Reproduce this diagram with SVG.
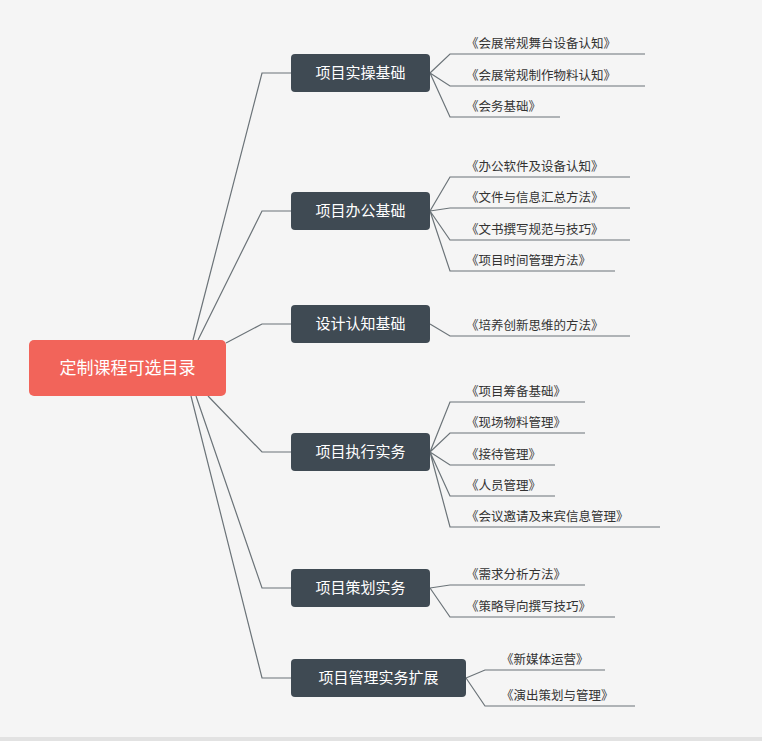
<svg xmlns="http://www.w3.org/2000/svg" width="762" height="741" viewBox="0 0 762 741">
<style>
.c{fill:none;stroke:#6b7378;stroke-width:1.2}
.n rect{fill:#3f4a53}
.n text{fill:#fff;font:15px "Noto Sans CJK SC",sans-serif;text-anchor:middle}
.l{fill:#333;font:12.5px "Noto Sans CJK SC",sans-serif}
</style>
<rect width="762" height="741" fill="#f5f5f5"/>
<rect y="737" width="762" height="4" fill="#e2e2e2"/>
<g id="connectors" class="c">
<path d="M193 340L262 73H291"/>
<path d="M198 340L262 211H291"/>
<path d="M226 343L262 324H291"/>
<path d="M208 396L262 452H291"/>
<path d="M196 396L262 588H291"/>
<path d="M191 396L262 678H291"/>
<path d="M430 73L450 54H645M430 73L450 86H645M430 73L450 117H560"/>
<path d="M430 211L450 177H630M430 211L450 208H630M430 211L450 240H630M430 211L450 271H615"/>
<path d="M430 324L450 336H630"/>
<path d="M430 452L450 402H585M430 452L450 433H585M430 452L450 465H555M430 452L450 496H555M430 452L450 527H660"/>
<path d="M430 588L450 585H585M430 588L450 617H615"/>
<path d="M466 678L485 670H605M466 678L485 706H635"/>
</g>
<g id="root"><rect x="29" y="340" width="197" height="56" rx="5" fill="#f2645a"/><text x="127.5" y="374" fill="#fff" font-family="Noto Sans CJK SC,sans-serif" font-size="17" text-anchor="middle">定制课程可选目录</text></g>
<g id="n1" class="n"><rect x="291" y="54" width="139" height="38" rx="4"/><text x="360.5" y="78">项目实操基础</text></g>
<g id="n2" class="n"><rect x="291" y="192" width="139" height="38" rx="4"/><text x="360.5" y="216">项目办公基础</text></g>
<g id="n3" class="n"><rect x="291" y="305" width="139" height="38" rx="4"/><text x="360.5" y="329">设计认知基础</text></g>
<g id="n4" class="n"><rect x="291" y="433" width="139" height="38" rx="4"/><text x="360.5" y="457">项目执行实务</text></g>
<g id="n5" class="n"><rect x="291" y="569" width="139" height="38" rx="4"/><text x="360.5" y="593">项目策划实务</text></g>
<g id="n6" class="n"><rect x="291" y="659" width="175" height="38" rx="4"/><text x="378.5" y="683">项目管理实务扩展</text></g>
<g id="leaves" class="l">
<text x="466" y="48">《会展常规舞台设备认知》</text>
<text x="466" y="80">《会展常规制作物料认知》</text>
<text x="466" y="111">《会务基础》</text>
<text x="466" y="171">《办公软件及设备认知》</text>
<text x="466" y="202">《文件与信息汇总方法》</text>
<text x="466" y="234">《文书撰写规范与技巧》</text>
<text x="466" y="265">《项目时间管理方法》</text>
<text x="466" y="330">《培养创新思维的方法》</text>
<text x="466" y="396">《项目筹备基础》</text>
<text x="466" y="427">《现场物料管理》</text>
<text x="466" y="459">《接待管理》</text>
<text x="466" y="490">《人员管理》</text>
<text x="466" y="521">《会议邀请及来宾信息管理》</text>
<text x="466" y="579">《需求分析方法》</text>
<text x="466" y="611">《策略导向撰写技巧》</text>
<text x="501" y="664">《新媒体运营》</text>
<text x="501" y="700">《演出策划与管理》</text>
</g>
</svg>
